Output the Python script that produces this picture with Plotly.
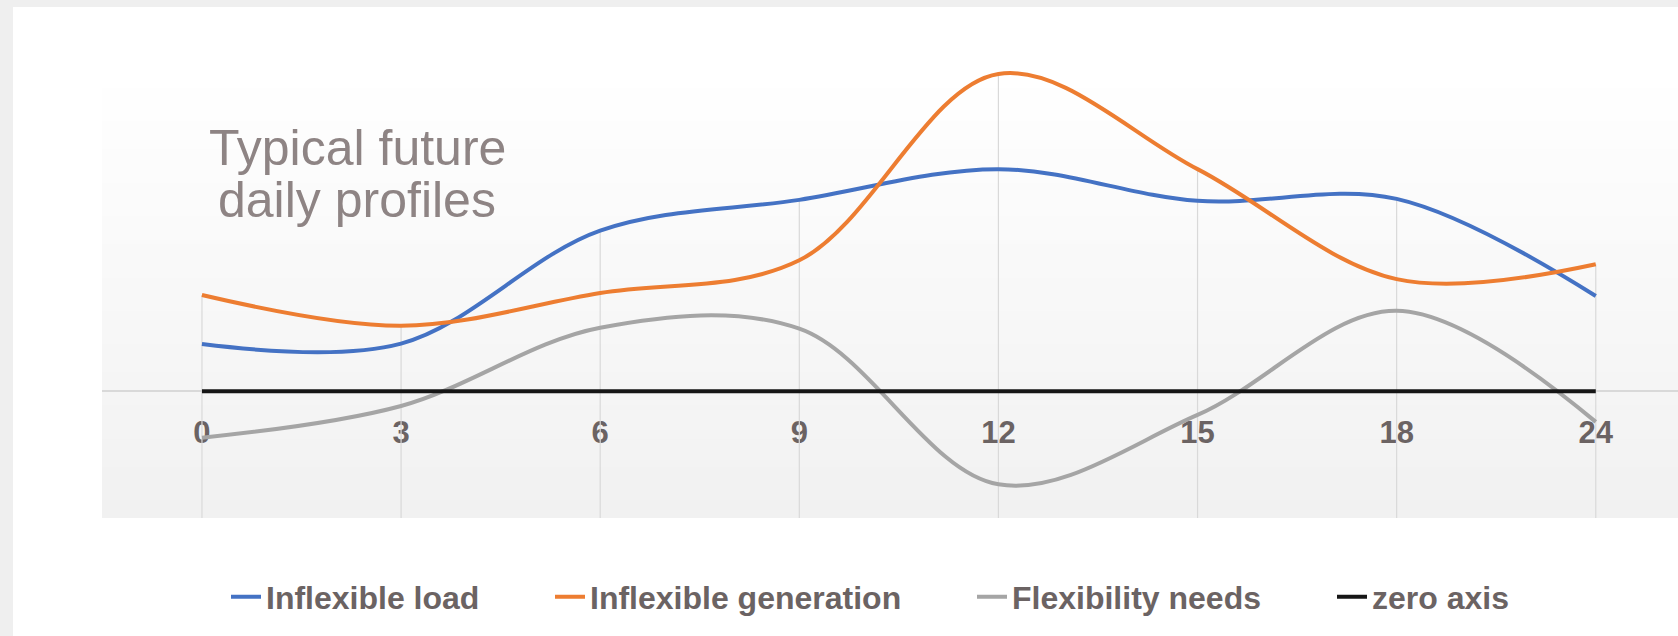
import plotly.graph_objects as go

# ---- data ----
hours = ['0', '3', '6', '9', '12', '15', '18', '24']
inflexible_load = [4.75, 4.8, 16.2, 19.3, 22.4, 19.2, 19.4, 9.6]
inflexible_generation = [9.7, 6.6, 9.9, 13.2, 32.0, 22.4, 11.3, 12.8]
flexibility_needs = [-4.7, -1.5, 6.4, 6.3, -9.4, -2.4, 8.1, -3.1]
zero_axis = [0, 0, 0, 0, 0, 0, 0, 0]

series_names = ['Inflexible load', 'Inflexible generation', 'Flexibility needs', 'zero axis']
title_lines = ['Typical future', 'daily profiles']

# ---- styling / geometry ----
W, H = 1678, 636
ML, MR, MT, MB = 102, 0, 40, 118
PW = W - ML - MR
PH = H - MT - MB
Y_RANGE = [-12.8, 35.43]
GRAD_TOP = 72  # px where the plot-area gradient starts

def px_x(x):
    return (x - ML) / PW

def px_y(y):
    return (H - MB - y) / PH

colors = ['#4472c4', '#ed7d31', '#a5a5a5', '#161616']
widths = [4, 4, 4, 4]
label_color = '#6b6363'
font_family = 'Liberation Sans, Arial, sans-serif'

fig = go.Figure()
all_series = [inflexible_load, inflexible_generation, flexibility_needs, zero_axis]

# drop lines: from the highest series value at each hour down to the bottom of the plot area
drop_x, drop_y = [], []
for i, h in enumerate(hours):
    top = max(s[i] for s in all_series)
    drop_x += [h, h, None]
    drop_y += [top, Y_RANGE[0], None]
fig.add_trace(go.Scatter(x=drop_x, y=drop_y, mode='lines', showlegend=False,
                         line=dict(color='#d9d9d9', width=1.2), hoverinfo='skip'))

legend_ids = ['legend', 'legend2', 'legend3', 'legend4']
for name, vals, col, wd, lg in zip(series_names, all_series, colors, widths, legend_ids):
    fig.add_trace(go.Scatter(
        x=hours, y=vals, name=name, mode='lines',
        line=dict(color=col, width=wd, shape='spline', smoothing=1.0),
        legend=lg, hoverinfo='x+y+name'))

shapes = []
# white card on light-grey frame
shapes.append(dict(type='rect', xref='paper', yref='paper', layer='below',
                   x0=px_x(13), x1=px_x(W + 5), y0=px_y(H + 5), y1=px_y(7),
                   fillcolor='white', line=dict(width=0)))
# vertical gradient for the plot area (white -> light grey)
n_bands = 80
g_top, g_bot = px_y(GRAD_TOP), 0.0
for i in range(n_bands):
    t = (i + 0.5) / n_bands
    c = int(round(255 - t * (255 - 241)))
    y1 = g_top - (g_top - g_bot) * i / n_bands
    y0 = g_top - (g_top - g_bot) * (i + 1) / n_bands
    shapes.append(dict(type='rect', xref='paper', yref='paper', layer='below',
                       x0=0, x1=1, y0=y0, y1=min(g_top, y1 + 0.002),
                       fillcolor=f'rgb({c},{c},{c})', line=dict(width=0)))

annotations = []
title_centres = [148, 200]
for txt, yc in zip(title_lines, title_centres):
    annotations.append(dict(text=txt, xref='paper', yref='paper', x=px_x(357), y=px_y(yc),
                            xanchor='center', yanchor='middle', showarrow=False,
                            font=dict(family=font_family, size=50, color='#8e8484')))

legend_font = dict(family=font_family, size=32, color=label_color, weight='bold')
legend_lefts = [226, 550, 972, 1332]
legend_layout = {}
for lg, left in zip(legend_ids, legend_lefts):
    legend_layout[lg] = dict(orientation='h', x=px_x(left), xanchor='left',
                             y=px_y(597), yanchor='middle', font=legend_font,
                             bgcolor='rgba(0,0,0,0)', borderwidth=0)

fig.update_layout(
    width=W, height=H,
    margin=dict(l=ML, r=MR, t=MT, b=MB, pad=0),
    paper_bgcolor='#efefef', plot_bgcolor='white',
    showlegend=True,
    shapes=shapes, annotations=annotations,
    xaxis=dict(type='category', range=[-0.502, 7.413], anchor='free',
               position=px_y(391), showline=True, linecolor='#d9d9d9', linewidth=2,
               layer='below traces',
               showgrid=False, zeroline=False,
               ticks='', ticklabelstandoff=14, fixedrange=True,
               tickfont=dict(family=font_family, size=31, color=label_color, weight='bold')),
    yaxis=dict(range=Y_RANGE, showgrid=False, zeroline=False,
               showticklabels=False, ticks='', showline=False, fixedrange=True),
    **legend_layout,
)

fig.write_html('out.html', config={'displayModeBar': False},
               post_script="document.body.style.margin='0';document.body.style.overflow='hidden';")
